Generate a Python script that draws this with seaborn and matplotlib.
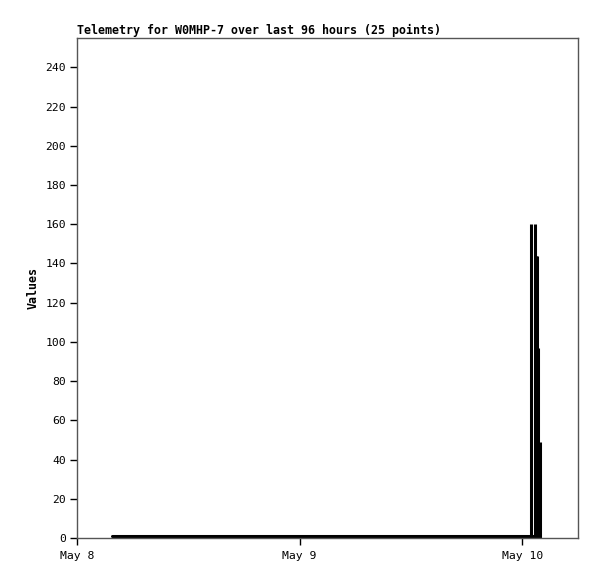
import pandas as pd
import matplotlib
matplotlib.use("Agg")
import matplotlib.pyplot as plt
import matplotlib.dates as mdates
import seaborn as sns

# Telemetry points (hours after May 8 00:00) and values
hours = [3.8, 6.0, 8.0, 10.0, 12.0, 14.0, 16.0, 18.0, 20.0, 22.0,
         24.0, 26.0, 28.0, 30.0, 32.0, 34.0, 36.0, 38.0, 44.0,
         48.95, 49.35, 49.5, 49.6, 49.75, 49.9]
values = [0, 0, 0, 0, 0, 0, 0, 0, 0, 0,
          0, 0, 0, 0, 0, 0, 0, 0, 0,
          160, 160, 144, 144, 97, 49]
y_ticks = list(range(0, 241, 20))

start = pd.Timestamp("2024-05-08 00:00")
df = pd.DataFrame({"time": [start + pd.Timedelta(hours=h) for h in hours],
                   "value": values})

sns.set_style("white")
plt.rcParams["font.family"] = ["DejaVu Sans Mono"]
plt.rcParams["text.color"] = "black"
plt.rcParams["axes.labelcolor"] = "black"

fig = plt.figure(figsize=(5.97, 5.79), dpi=100)
ax = fig.add_axes([0.129, 0.0708, 0.839, 0.8637])

# baseline through the zero readings, then impulses
sns.lineplot(data=df, x="time", y=[1.0] * len(df), color="black", linewidth=2.2, ax=ax)
ax.vlines(df["time"], 0, df["value"], color="black", linewidth=2.2)

ax.set_xlim(start, start + pd.Timedelta(hours=54))
ax.set_ylim(0, 255)
ax.set_yticks(y_ticks)
ax.xaxis.set_major_locator(mdates.DayLocator())
ax.xaxis.set_major_formatter(mdates.DateFormatter("%b %-d"))

for s in ax.spines.values():
    s.set_color("#555555")
    s.set_linewidth(1)
ax.tick_params(axis="both", direction="out", length=5, width=1, color="black",
               labelcolor="black", labelsize=8.2, pad=3, bottom=True, left=True)
ax.tick_params(axis="x", pad=4)

ax.set_xlabel("")
ax.set_ylabel("Values", fontsize=8.4, fontweight="bold", labelpad=4)
ax.set_title("Telemetry for W0MHP-7 over last 96 hours (25 points)",
             loc="left", fontsize=8.4, fontweight="bold", pad=3)

fig.savefig("out.png", dpi=100)
